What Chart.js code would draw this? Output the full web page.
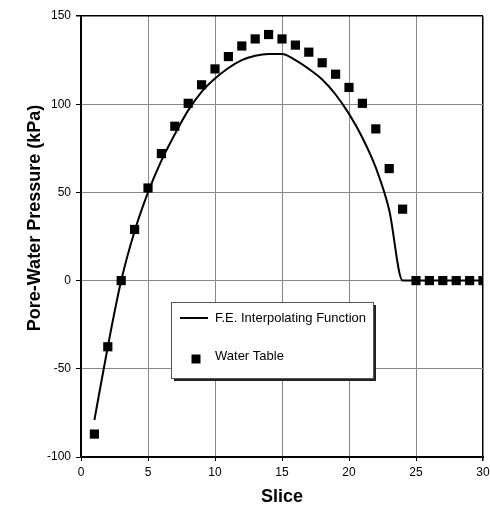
<!DOCTYPE html>
<html>
<head>
<meta charset="utf-8">
<script src="https://cdn.jsdelivr.net/npm/chart.js@4/dist/chart.umd.min.js"></script>
<style>
  html, body { margin: 0; padding: 0; background: #fff; }
  #wrap { width: 490px; height: 508px; }
</style>
</head>
<body>
<div id="wrap"><canvas id="poreWater" width="490" height="508"></canvas></div>
<script>
// slice numbers
const slices = [1, 2, 3, 4, 5, 6, 7, 8, 9, 10, 11, 12, 13, 14, 15, 16, 17, 18, 19, 20, 21, 22, 23, 24, 25, 26, 27, 28, 29, 30];

// pore-water pressure from the water table (kPa)
const waterTable = [-87, -37.5, 0, 29, 52.5, 72, 87.5, 100.5, 111, 120, 127, 133, 137, 139.5, 137, 133.5, 129.5, 123.5, 117, 109.5, 100.5, 86, 63.5, 40.5, 0, 0, 0, 0, 0, 0];

// F.E. interpolating function (kPa)
const feFunction = [-79, -37.5, 0, 28, 50, 68, 83, 96.5, 107, 114.5, 120.5, 125, 127.5, 128.5, 128.5, 125, 120, 114, 105.5, 94.5, 81, 64, 40, 0, 0, 0, 0, 0, 0, 0];

const xTicks = [0, 5, 10, 15, 20, 25, 30];
const yTicks = [-100, -50, 0, 50, 100, 150];

const labelLine = "F.E. Interpolating Function";
const labelPoints = "Water Table";
const yTitle = "Pore-Water Pressure (kPa)";

const ctx = document.getElementById('poreWater');

// boite de legende dessinee a la main (comme sur l'original)
const legendBox = {
    id: 'legendBox',
    afterDraw(chart) {
        const c = chart.ctx;
        const x = 171, y = 302, w = 202, h = 76;
        c.save();
        c.fillStyle = '#222';
        c.fillRect(x + 3, y + 3, w, h);
        c.fillStyle = '#fff';
        c.fillRect(x, y, w, h);
        c.strokeStyle = '#555';
        c.lineWidth = 1;
        c.strokeRect(x + 0.5, y + 0.5, w, h);

        c.strokeStyle = '#000';
        c.lineWidth = 2;
        c.beginPath();
        c.moveTo(180, 318);
        c.lineTo(208, 318);
        c.stroke();

        c.fillStyle = '#000';
        c.fillRect(191.5, 354.5, 9, 9);

        c.font = '13px "Liberation Sans", Arial, sans-serif';
        c.textBaseline = 'middle';
        c.textAlign = 'left';
        c.fillText(chart.data.datasets[0].label, 215, 318);
        c.fillText(chart.data.datasets[1].label, 215, 356);

        // titre axe y
        c.translate(35, 218);
        c.rotate(-Math.PI / 2);
        c.textAlign = 'center';
        c.font = 'bold 18px "Liberation Sans", Arial, sans-serif';
        c.fillText(yTitle, 0, 0);
        c.restore();
    }
};

new Chart(ctx, {
    type: 'scatter',
    data: {
        datasets: [{
            label: labelLine,
            type: 'line',
            data: slices.map((s, i) => ({ x: s, y: feFunction[i] })),
            borderColor: '#000',
            borderWidth: 2,
            pointRadius: 0,
            cubicInterpolationMode: 'monotone',
            fill: false,
            order: 2,
        },
        {
            label: labelPoints,
            data: slices.map((s, i) => ({ x: s, y: waterTable[i] })),
            backgroundColor: '#000',
            borderColor: '#000',
            borderWidth: 0,
            pointStyle: 'rect',
            pointRadius: 6.5,
            order: 1,
        }]
    },
    options: {
        responsive: false,
        animation: false,
        events: [],
        layout: {
            padding: { left: 0, top: 16, right: 0, bottom: 0 },
        },
        scales: {
            x: {
                type: 'linear',
                min: 0,
                max: 30,
                afterBuildTicks: (axis) => { axis.ticks = xTicks.map(v => ({ value: v })); },
                afterFit: (axis) => { axis.height = 51; axis.paddingRight = 7; },
                grid: {
                    color: (c) => (c.tick && c.tick.value === 30) ? '#000' : '#888',
                    lineWidth: (c) => (c.tick && c.tick.value === 30) ? 1.5 : 1,
                    tickLength: 4,
                    tickColor: '#000',
                },
                border: { display: true, color: '#000', width: 2 },
                ticks: {
                    color: '#000',
                    padding: 4,
                    font: { family: '"Liberation Sans", Arial, sans-serif', size: 12 },
                },
                title: {
                    display: true,
                    text: 'Slice',
                    color: '#000',
                    padding: { top: 12, bottom: 0 },
                    font: { family: '"Liberation Sans", Arial, sans-serif', size: 18, weight: 'bold' },
                },
            },
            y: {
                min: -100,
                max: 150,
                afterBuildTicks: (axis) => { axis.ticks = yTicks.map(v => ({ value: v })); },
                afterFit: (axis) => { axis.width = 81; },
                grid: {
                    color: (c) => (c.tick && c.tick.value === 150) ? '#000' : '#888',
                    lineWidth: (c) => (c.tick && c.tick.value === 150) ? 1.5 : 1,
                    tickLength: 5,
                    tickColor: '#000',
                },
                border: { display: true, color: '#000', width: 2 },
                ticks: {
                    color: '#000',
                    padding: 5,
                    font: { family: '"Liberation Sans", Arial, sans-serif', size: 12 },
                },
            },
        },
        plugins: {
            legend: { display: false },
            tooltip: { enabled: false },
        }
    },
    plugins: [legendBox]
});
</script>
</body>
</html>
